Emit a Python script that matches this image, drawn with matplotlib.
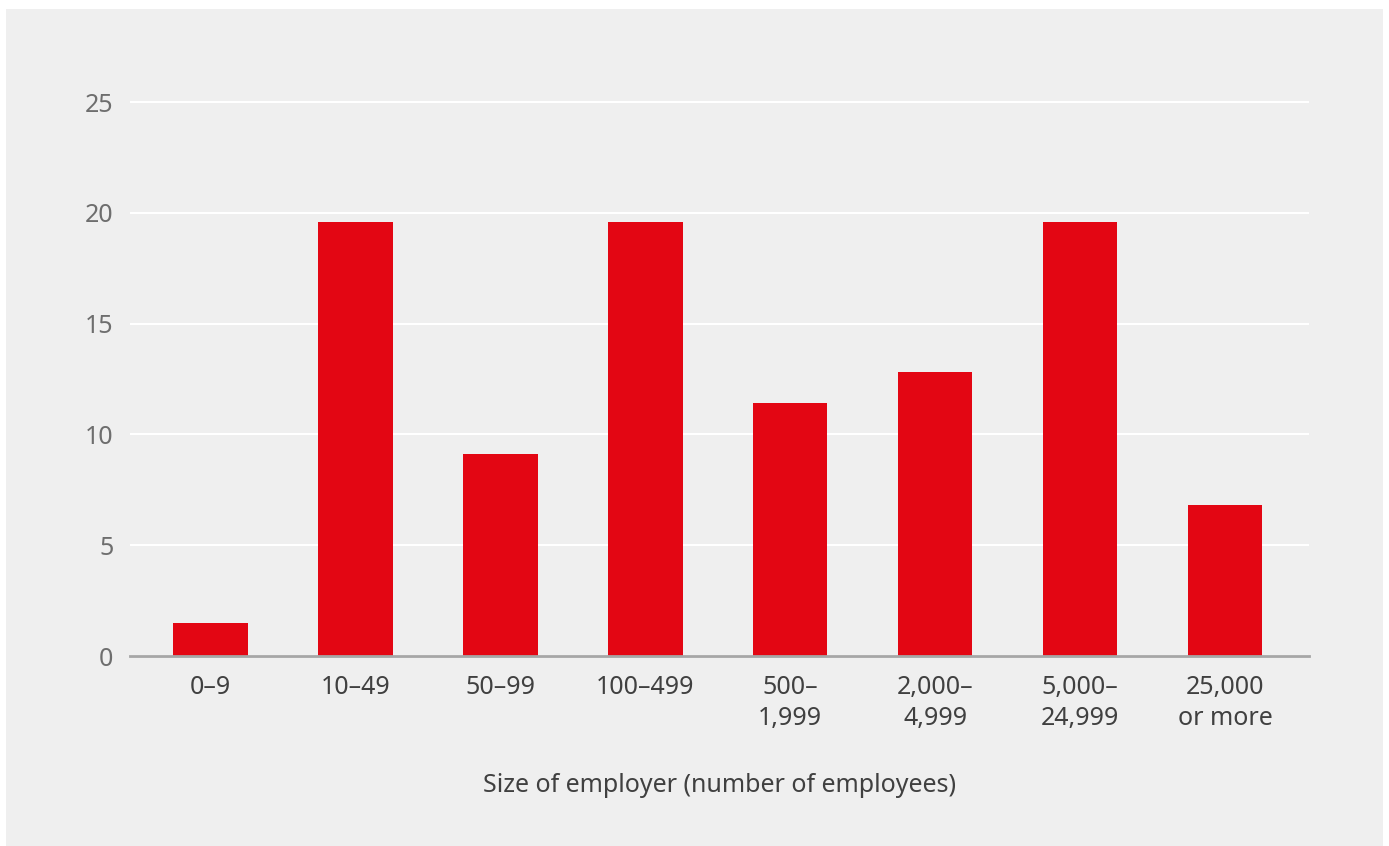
import numpy as np
import matplotlib
matplotlib.use("Agg")
import matplotlib.pyplot as plt
from matplotlib.patches import Rectangle

# Data
sizes = ["0–9", "10–49", "50–99", "100–499", "500–\n1,999",
         "2,000–\n4,999", "5,000–\n24,999", "25,000\nor more"]
values = [1.5, 19.6, 9.1, 19.6, 11.4, 12.8, 19.6, 6.8]
yticks = [0, 5, 10, 15, 20, 25]

plt.rcParams['font.family'] = ['Noto Sans', 'DejaVu Sans']

W, H = 1389, 846
fig = plt.figure(figsize=(W / 100, H / 100), dpi=100, facecolor="white")

# grey panel behind the chart
fig.patches.append(Rectangle((6 / W, 0), 1377 / W, (H - 9) / H,
                             transform=fig.transFigure, facecolor="#efefef",
                             edgecolor="none", zorder=-10))

ax = fig.add_axes([130 / W, 1 - 656 / H, (1309 - 130) / W, (656 - 80) / H])
ax.set_facecolor("none")

x = np.arange(len(sizes))
ax.bar(x, values, width=0.515, color="#e30613", zorder=3)

ax.set_xlim(-0.555, 7.58)
ax.set_ylim(0, 26)
ax.set_yticks(yticks)
ax.set_xticks(x)
ax.set_xticklabels(sizes, fontsize=18, color="#404040", linespacing=1.3)
ax.tick_params(axis="y", labelsize=18, labelcolor="#6e6e6e", length=0, pad=12)
ax.tick_params(axis="x", length=0, pad=14)

ax.grid(axis="y", color="white", linewidth=1.5, zorder=1)
ax.set_axisbelow(True)
for s in ["top", "right", "left"]:
    ax.spines[s].set_visible(False)
ax.spines["bottom"].set_color("#a6a6a6")
ax.spines["bottom"].set_linewidth(2)
ax.spines["bottom"].set_zorder(4)

ax.set_xlabel("Size of employer (number of employees)", fontsize=18,
              color="#404040", labelpad=30)

fig.savefig("out.png", dpi=100, facecolor=fig.get_facecolor())
